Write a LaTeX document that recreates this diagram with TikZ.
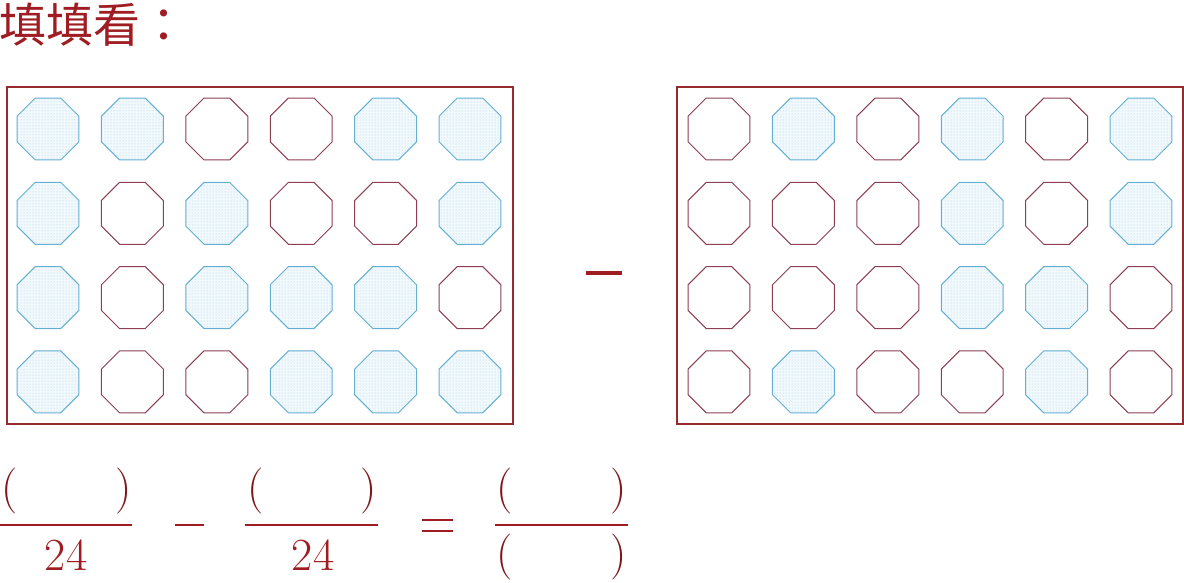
\documentclass[tikz,border=0pt]{standalone}
\usepackage{fontspec}
\newfontfamily\cjk{Noto Sans CJK TC}
\usetikzlibrary{shapes.geometric,patterns}
\definecolor{myred}{RGB}{158,28,34}
\definecolor{boxred}{RGB}{150,42,45}
\definecolor{octred}{RGB}{140,62,82}
\definecolor{octblue}{RGB}{100,175,210}
\definecolor{dotblue}{RGB}{160,205,228}
\definecolor{fillblue}{RGB}{242,249,253}
\tikzset{
  oct/.style={regular polygon, regular polygon sides=8, minimum size=67pt, inner sep=0pt, line width=1pt},
  oct0/.style={oct, draw=octred},
  oct1/.style={oct, draw=octblue, preaction={fill=fillblue}, pattern=dots, pattern color=dotblue},
  frame/.style={draw=boxred, line width=1.8pt},
  bar/.style={draw=myred, line width=2.4pt},
  par/.style={text=myred!80!black, font=\fontsize{46}{46}\selectfont, inner sep=0pt, anchor=base},
  num/.style={text=myred, font=\fontsize{46}{46}\selectfont, inner sep=0pt, anchor=base}
}
\begin{document}
\begin{tikzpicture}[x=1pt,y=-1pt]
\useasboundingbox (0,0) rectangle (1184,582);
\node[anchor=west, inner sep=0pt, text=myred, font=\cjk\fontsize{47}{47}\selectfont] (title) at (-1,25) {填填看：};
% frames
\draw[frame] (7,87) rectangle (513,424);
\draw[frame] (677,87) rectangle (1183,424);
\coordinate (bigA) at (586,273);
\coordinate (bigB) at (622,273);
\draw[draw=myred, line width=3.5pt] (bigA) -- (bigB);
% left grid
\foreach \r/\row in {1/{1,1,0,0,1,1},2/{1,0,1,0,0,1},3/{1,0,1,1,1,0},4/{1,0,0,1,1,1}}{
  \foreach \v [count=\c] in \row {
    \node[oct\v] (L-\r-\c) at ({48+(\c-1)*84.4},{129+(\r-1)*84.3}) {};
  }
}
% right grid
\foreach \r/\row in {1/{0,1,0,1,0,1},2/{0,0,0,1,0,1},3/{0,0,0,1,1,0},4/{0,1,0,0,1,0}}{
  \foreach \v [count=\c] in \row {
    \node[oct\v] (R-\r-\c) at ({719+(\c-1)*84.4},{129+(\r-1)*84.3}) {};
  }
}
% fractions
\coordinate (f1a) at (0,525); \coordinate (f1b) at (132,525);
\coordinate (f2a) at (245,525); \coordinate (f2b) at (378,525);
\coordinate (f3a) at (495,525); \coordinate (f3b) at (628,525);
\draw[bar] (f1a) -- (f1b);
\draw[bar] (f2a) -- (f2b);
\draw[bar] (f3a) -- (f3b);
\node[par] (p1l) at (10,502) {(};
\node[par] (p1r) at (124,502) {)};
\node[num] (n1) at (66,570) {24};
\node[par] (p2l) at (256,502) {(};
\node[par] (p2r) at (369,502) {)};
\node[num] (n2) at (313,570) {24};
\node[par] (p3l) at (505,502) {(};
\node[par] (p3r) at (619,502) {)};
\node[par] (p4l) at (505,568) {(};
\node[par] (p4r) at (619,568) {)};
% minus and equals
\coordinate (mA) at (175,525); \coordinate (mB) at (204,525);
\draw[draw=myred, line width=2.2pt] (mA) -- (mB);
\coordinate (eA) at (422,520); \coordinate (eB) at (453,520);
\coordinate (eC) at (422,531); \coordinate (eD) at (453,531);
\draw[draw=myred, line width=2pt] (eA) -- (eB) (eC) -- (eD);
\end{tikzpicture}
\end{document}
